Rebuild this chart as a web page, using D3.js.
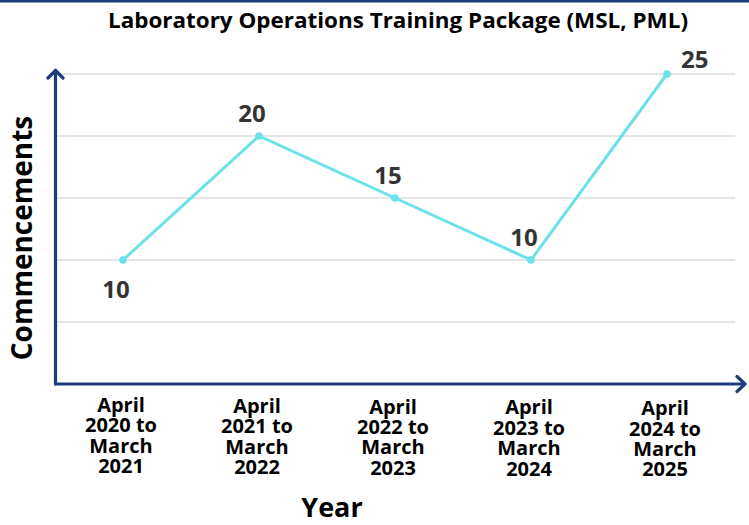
<!DOCTYPE html>
<html>
<head>
<meta charset="utf-8">
<script src="https://cdn.jsdelivr.net/npm/d3@7"></script>
<style>
  body { margin: 0; background: #fff; }
  svg { display: block; font-family: "Open Sans", sans-serif; }
</style>
</head>
<body>
<svg id="chart"></svg>
<script>
const periods = [
    ["April", "2020 to", "March", "2021"],
    ["April", "2021 to", "March", "2022"],
    ["April", "2022 to", "March", "2023"],
    ["April", "2023 to", "March", "2024"],
    ["April", "2024 to", "March", "2025"]
];
const commencements = [10, 20, 15, 10, 25];
const gridValues = [5, 10, 15, 20, 25];
const labelSides = ["below", "above", "above", "above", "right"];

const width = 749,
    height = 525;
const navy = "#1c3c7c",
    lineColor = "#6ae2e8";

const svg = d3.select("#chart")
    .attr("width", width)
    .attr("height", height);

// top border
svg.append("rect")
    .attr("x", 0).attr("y", 0)
    .attr("width", width).attr("height", 2.5)
    .attr("fill", navy);

const keys = periods.map((p, i) => i);

const x = d3.scalePoint()
    .domain(keys)
    .range([123, 667]);

const y = d3.scaleLinear()
    .domain([0, 25])
    .range([384, 74]);

// gridlines
svg.append("g")
    .selectAll("line")
    .data(gridValues)
    .enter()
    .append("line")
    .attr("x1", 57)
    .attr("x2", 735)
    .attr("y1", d => y(d))
    .attr("y2", d => y(d))
    .attr("stroke", "#cccccc")
    .attr("stroke-width", 1.2);

// axes with arrows
const axes = svg.append("g")
    .attr("fill", "none")
    .attr("stroke", navy)
    .attr("stroke-width", 3.2)
    .attr("stroke-linejoin", "round")
    .attr("stroke-linecap", "round");

axes.append("path")
    .attr("d", `M55.5,${y(0)}V70 M48,78 L55.5,70.5 L63,78`);
axes.append("path")
    .attr("d", `M55.5,${y(0)}H745 M737,376.5 L745,${y(0)} L737,391.5`);

// line
const line = d3.line()
    .x((d, i) => x(i))
    .y(d => y(d));

svg.append("path")
    .datum(commencements)
    .attr("d", line)
    .attr("fill", "none")
    .attr("stroke", lineColor)
    .attr("stroke-width", 3);

svg.selectAll("circle.pt")
    .data(commencements)
    .enter()
    .append("circle")
    .attr("class", "pt")
    .attr("cx", (d, i) => x(i))
    .attr("cy", d => y(d))
    .attr("r", 3.8)
    .attr("fill", lineColor);

// value labels
svg.selectAll("text.value")
    .data(commencements)
    .enter()
    .append("text")
    .attr("class", "value")
    .attr("x", (d, i) => {
        if (labelSides[i] === "right") return x(i) + 14;
        return x(i) - 7;
    })
    .attr("y", (d, i) => {
        if (labelSides[i] === "below") return y(d) + 38;
        if (labelSides[i] === "right") return y(d) - 6;
        return y(d) - 14;
    })
    .attr("text-anchor", (d, i) => labelSides[i] === "right" ? "start" : "middle")
    .attr("font-size", "24px")
    .attr("font-weight", 700)
    .attr("fill", "#333333")
    .text(d => d);

// x tick labels
const ticks = svg.selectAll("text.tick")
    .data(periods)
    .enter()
    .append("text")
    .attr("class", "tick")
    .attr("text-anchor", "middle")
    .attr("font-size", "20px")
    .attr("font-weight", 700)
    .attr("fill", "#000");

ticks.selectAll("tspan")
    .data((d, i) => d.map(t => ({ t: t, i: i })))
    .enter()
    .append("tspan")
    .attr("x", d => x(d.i) - 2)
    .attr("y", (d, j) => 412 + d.i * 0.8 + j * 20.4)
    .text(d => d.t);

// axis titles
svg.append("text")
    .attr("x", 332)
    .attr("y", 517)
    .attr("text-anchor", "middle")
    .attr("font-size", "27px")
    .attr("font-weight", 700)
    .attr("fill", "#000")
    .text("Year");

svg.append("text")
    .attr("transform", "translate(32,238) rotate(-90)")
    .attr("text-anchor", "middle")
    .attr("font-size", "28px")
    .attr("font-weight", 700)
    .attr("fill", "#000")
    .text("Commencements");

svg.append("text")
    .attr("x", 398)
    .attr("y", 28)
    .attr("text-anchor", "middle")
    .attr("font-size", "21px")
    .attr("font-weight", 700)
    .attr("fill", "#000")
    .attr("textLength", 580)
    .attr("lengthAdjust", "spacingAndGlyphs")
    .text("Laboratory Operations Training Package (MSL, PML)");
</script>
</body>
</html>
